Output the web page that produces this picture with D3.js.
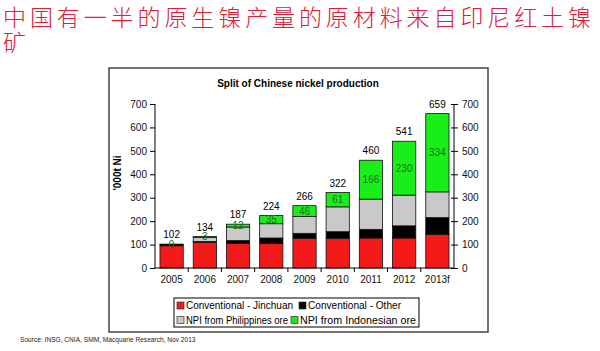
<!DOCTYPE html>
<html>
<head>
<meta charset="utf-8">
<script src="https://cdn.jsdelivr.net/npm/d3@7"></script>
<style>
  body { margin: 0; background: #fff; }
  svg { display: block; }
</style>
</head>
<body>
<div id="visualization"></div>
<script>
let w = 600;
let h = 351;

// data
let years = ["2005", "2006", "2007", "2008", "2009", "2010", "2011", "2012", "2013f"];
let jinchuan = [95, 110, 105, 104, 127, 127, 128, 128, 143];
let other = [4, 3, 12, 24, 21, 28, 37, 52, 72];
let philippines = [3, 18, 58, 61, 72, 106, 129, 131, 110];
let indonesian = [0, 3, 12, 35, 46, 61, 166, 230, 334];
let totals = [102, 134, 187, 224, 266, 322, 460, 541, 659];
let yTicks = [0, 100, 200, 300, 400, 500, 600, 700];

let seriesNames = ["Conventional - Jinchuan", "Conventional - Other", "NPI from Philippines ore", "NPI from Indonesian ore"];
let seriesKeys = ["jinchuan", "other", "philippines", "indonesian"];
let colors = ["#f51a1a", "#000000", "#c9c9c9", "#19ee19"];

let rows = years.map((y, i) => ({
  year: y,
  jinchuan: jinchuan[i],
  other: other[i],
  philippines: philippines[i],
  indonesian: indonesian[i],
  total: totals[i]
}));

let viz = d3.select("#visualization")
  .append("svg")
  .attr("width", w)
  .attr("height", h)
  .style("font-family", "Arial, 'Liberation Sans', sans-serif");

// slide heading
let heading = viz.append("text")
  .attr("fill", "#d8203a")
  .style("font-family", "'Noto Sans CJK SC', sans-serif")
  .style("font-size", "23px")
  .style("font-weight", 300);
heading.append("tspan").attr("x", 3).attr("y", 26)
  .attr("textLength", 588).attr("lengthAdjust", "spacing")
  .text("中国有一半的原生镍产量的原材料来自印尼红土镍");
heading.append("tspan").attr("x", 3).attr("y", 51).text("矿");

// chart frame
viz.append("rect")
  .attr("x", 109).attr("y", 68)
  .attr("width", 379).attr("height", 264)
  .attr("fill", "white")
  .attr("stroke", "#444")
  .attr("stroke-width", 1.5);

viz.append("text")
  .attr("x", 298).attr("y", 87)
  .attr("text-anchor", "middle")
  .style("font-size", "10px")
  .style("font-weight", "bold")
  .text("Split of Chinese nickel production");

// scales
let xScale = d3.scaleBand().domain(years).range([155, 454]).paddingInner(0.3).paddingOuter(0.15);
let yScale = d3.scaleLinear().domain([0, 700]).range([268, 104]);

// bars
let stack = d3.stack().keys(seriesKeys);
let stacked = stack(rows);

viz.selectAll(".series").data(stacked).enter()
  .append("g")
  .attr("class", "series")
  .attr("fill", (d, i) => colors[i])
  .selectAll("rect").data(d => d).enter()
  .append("rect")
  .attr("x", d => xScale(d.data.year))
  .attr("y", d => yScale(d[1]))
  .attr("width", xScale.bandwidth())
  .attr("height", d => yScale(d[0]) - yScale(d[1]))
  .attr("stroke", "#111")
  .attr("stroke-width", 0.8);

// green segment labels
viz.selectAll(".greenlabel").data(stacked[3]).enter()
  .append("text")
  .attr("class", "greenlabel")
  .attr("x", d => xScale(d.data.year) + xScale.bandwidth() / 2)
  .attr("y", d => (yScale(d[0]) + yScale(d[1])) / 2)
  .attr("dy", "0.35em")
  .attr("text-anchor", "middle")
  .attr("fill", "#1d6e1d")
  .style("font-size", "10px")
  .text(d => d.data.indonesian);

// totals
viz.selectAll(".total").data(rows).enter()
  .append("text")
  .attr("class", "total")
  .attr("x", d => xScale(d.year) + xScale.bandwidth() / 2)
  .attr("y", d => yScale(d.total) - 6)
  .attr("text-anchor", "middle")
  .style("font-size", "10px")
  .text(d => d.total);

// axes
let leftAxis = viz.append("g")
  .attr("transform", "translate(155,0)")
  .call(d3.axisLeft(yScale).tickValues(yTicks).tickSize(5).tickPadding(3));
let rightAxis = viz.append("g")
  .attr("transform", "translate(454,0)")
  .call(d3.axisRight(yScale).tickValues(yTicks).tickSize(4).tickPadding(4));
rightAxis.selectAll(".tick line").attr("x1", -3);

let xAxis = viz.append("g")
  .attr("transform", "translate(0,268)")
  .call(d3.axisBottom(xScale).tickSize(0).tickPadding(8));

// category separators under the axis
let step = xScale.step();
let seps = years.slice(1).map(y => xScale(y) - xScale.paddingInner() * step / 2);
xAxis.selectAll(".sep").data(seps).enter()
  .append("line")
  .attr("class", "sep")
  .attr("x1", d => d).attr("x2", d => d)
  .attr("y1", 0).attr("y2", 4)
  .attr("stroke", "#000");

[leftAxis, rightAxis, xAxis].forEach(g => {
  g.selectAll("text").style("font-size", "10px").attr("fill", "#111");
  g.selectAll("path, line").attr("stroke", "#000");
  g.select(".domain").attr("stroke-width", 1);
});
leftAxis.select(".domain").attr("d", "M0,104V268");
rightAxis.select(".domain").attr("d", "M0,104V268");
xAxis.select(".domain").attr("d", "M155,0H454");

viz.append("text")
  .attr("transform", "translate(121,173) rotate(-90)")
  .attr("text-anchor", "middle")
  .style("font-size", "10px")
  .style("font-weight", "bold")
  .text("'000t Ni");

// legend
let legend = viz.append("g");
legend.append("rect")
  .attr("x", 174).attr("y", 298)
  .attr("width", 245).attr("height", 29)
  .attr("fill", "white").attr("stroke", "#000");

let legendPos = [[177, 305.5], [299, 305.5], [177, 320], [291, 320]];
let legendWidths = [107, 93, 102, 116];
let items = legend.selectAll(".item").data(seriesNames).enter()
  .append("g")
  .attr("class", "item")
  .attr("transform", (d, i) => "translate(" + legendPos[i][0] + "," + legendPos[i][1] + ")");
items.append("rect")
  .attr("x", 0).attr("y", -3.5)
  .attr("width", 7).attr("height", 7)
  .attr("fill", (d, i) => colors[i])
  .attr("stroke", "#333").attr("stroke-width", 0.7);
items.append("text")
  .attr("x", 9).attr("dy", "0.35em")
  .attr("textLength", (d, i) => legendWidths[i])
  .attr("lengthAdjust", "spacingAndGlyphs")
  .style("font-size", "10px")
  .text(d => d);

viz.append("text")
  .attr("x", 20).attr("y", 342)
  .style("font-size", "6.6px")
  .attr("fill", "#222")
  .text("Source: INSG, CNIA, SMM, Macquarie Research, Nov 2013");
</script>
</body>
</html>
